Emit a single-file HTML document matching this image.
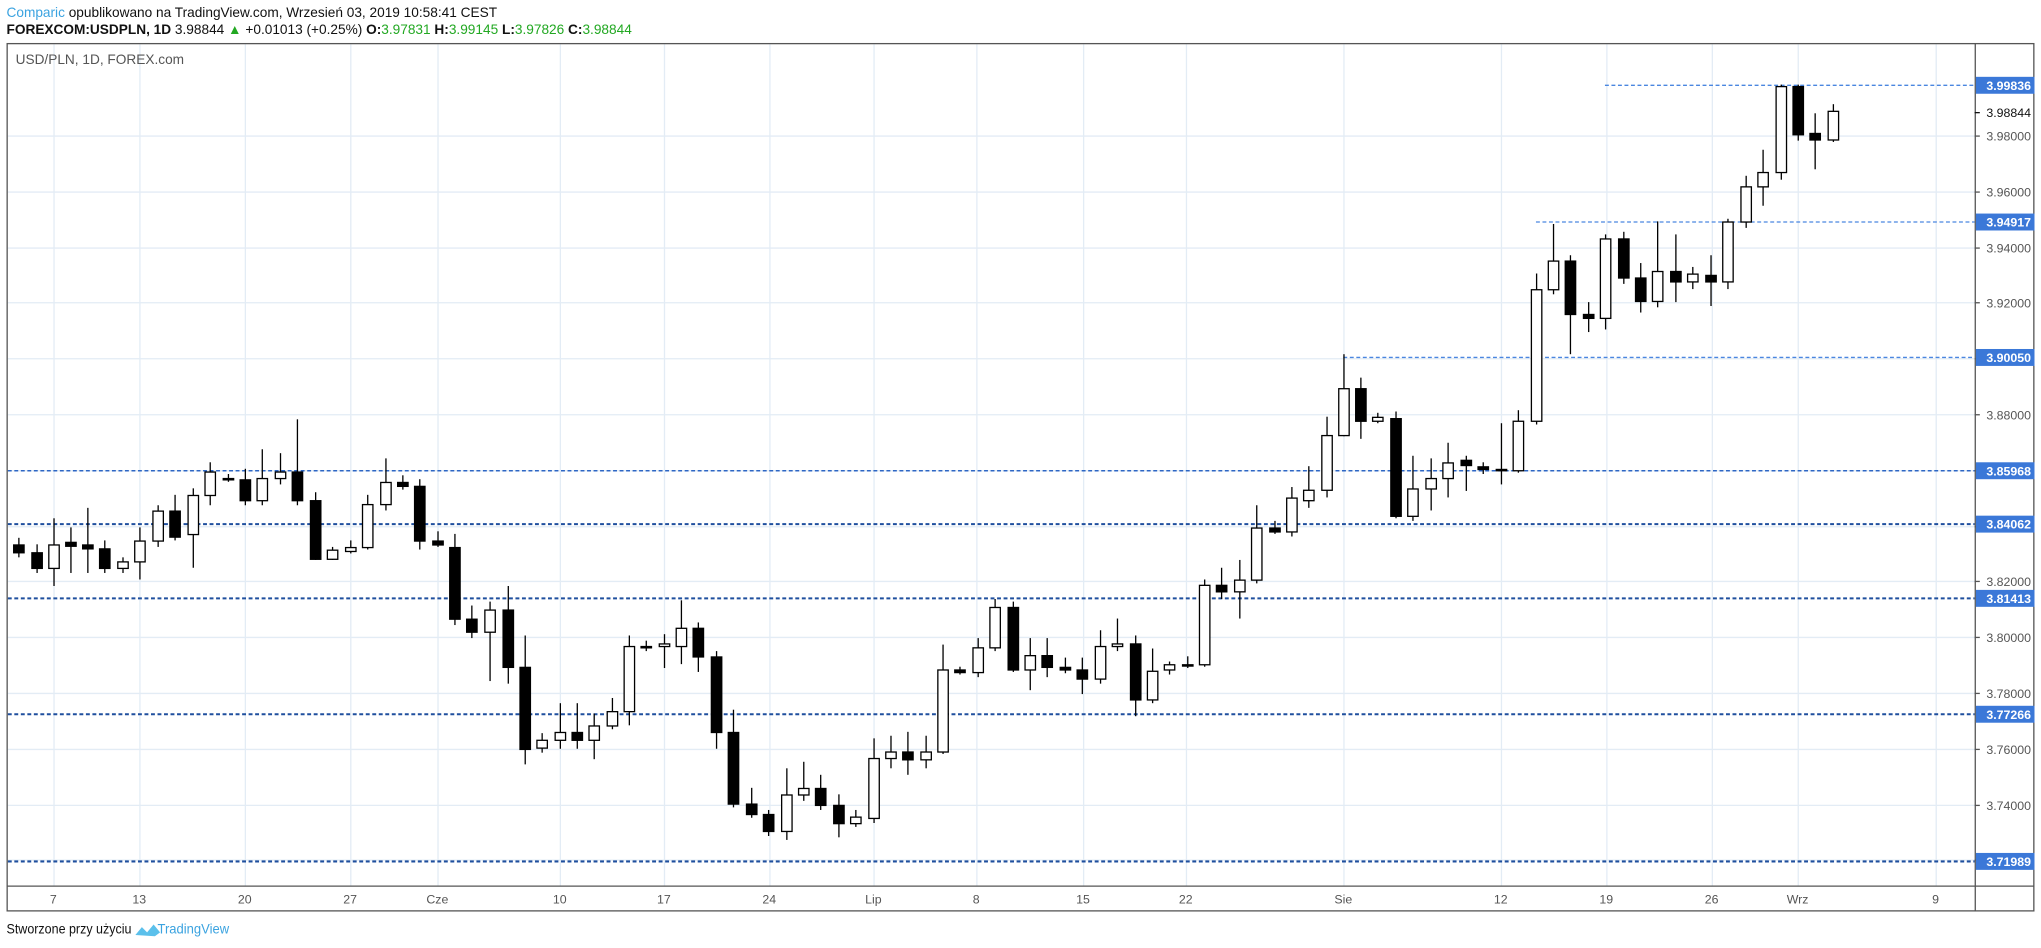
<!DOCTYPE html>
<html><head><meta charset="utf-8"><style>
html,body{margin:0;padding:0;background:#fff;}
svg{display:block;font-family:"Liberation Sans",sans-serif;}
</style></head><body>
<svg id="s" width="2041" height="948" viewBox="0 0 1568 728" preserveAspectRatio="none" xmlns="http://www.w3.org/2000/svg">
<rect width="1568" height="728" fill="#fff"/>
<text x="5" y="13" font-size="10.5" fill="#111"><tspan fill="#3ba3e0">Comparic</tspan> opublikowano na TradingView.com, Wrzesień 03, 2019 10:58:41 CEST</text>
<text x="5" y="26" font-size="10.5" fill="#111"><tspan font-weight="bold">FOREXCOM:USDPLN, 1D</tspan> 3.98844 <tspan fill="#22a822">▲</tspan> +0.01013 (+0.25%) <tspan font-weight="bold">O:</tspan><tspan fill="#22a822">3.97831</tspan> <tspan font-weight="bold">H:</tspan><tspan fill="#22a822">3.99145</tspan> <tspan font-weight="bold">L:</tspan><tspan fill="#22a822">3.97826</tspan> <tspan font-weight="bold">C:</tspan><tspan fill="#22a822">3.98844</tspan></text>
<g id="grid"></g>
<g id="lines"></g>
<g id="candles"></g>
<rect x="5.5" y="33.5" width="1557" height="666" fill="none" stroke="#555" stroke-width="1"/>
<line x1="5" y1="680.5" x2="1563" y2="680.5" stroke="#555"/>
<line x1="1517.5" y1="33" x2="1517.5" y2="700" stroke="#555"/>
<text x="12" y="49" font-size="10.5" fill="#555">USD/PLN, 1D, FOREX.com</text>
<g id="labels" font-size="9.5" fill="#555"></g>
<g font-size="9.5" fill="#555" text-anchor="middle">
<text x="41" y="694">7</text><text x="107" y="694">13</text><text x="188" y="694">20</text><text x="269" y="694">27</text><text x="336" y="694">Cze</text><text x="430" y="694">10</text><text x="510" y="694">17</text><text x="591" y="694">24</text><text x="671" y="694">Lip</text><text x="750" y="694">8</text><text x="832" y="694">15</text><text x="911" y="694">22</text><text x="1032" y="694">Sie</text><text x="1153" y="694">12</text><text x="1234" y="694">19</text><text x="1315" y="694">26</text><text x="1381" y="694">Wrz</text><text x="1487" y="694">9</text>
</g>
<g id="hl" font-size="9.5" font-weight="bold" fill="#fff"></g>
<text x="5" y="717" font-size="10.5" fill="#111" textLength="96" lengthAdjust="spacingAndGlyphs">Stworzone przy użyciu</text>
<path d="M104 718 l5 -6 l4 4 l5 -6 l5 6 l-4 3 z" fill="#5bc0eb"/>
<text x="121" y="717" font-size="10.5" fill="#3ba3e0" textLength="55" lengthAdjust="spacingAndGlyphs">TradingView</text>
</svg>
<script>
var NS="http://www.w3.org/2000/svg";
function el(p,t,a,txt){var e=document.createElementNS(NS,t);for(var k in a)e.setAttribute(k,a[k]);if(txt)e.textContent=txt;document.getElementById(p).appendChild(e);return e;}
function Y(p){return 104+(3.98-p)/0.02*42.8;}
[41,107,188,269,336,430,510,591,671,750,832,911,1032,1153,1234,1315,1381,1487].forEach(function(x){el("grid","line",{x1:x+.5,y1:34,x2:x+.5,y2:680,stroke:"#e3ecf5"});});
for(var p=3.72;p<=3.981;p+=0.02){var y=Math.round(Y(p))+.5;el("grid","line",{x1:6,y1:y,x2:1517,y2:y,stroke:"#e3ecf5"});el("grid","line",{x1:1517,y1:y,x2:1521,y2:y,stroke:"#555"});el("labels","text",{x:1526,y:y+3.5},p.toFixed(5));}
var y0=Math.round(Y(3.98844))+.5;el("labels","line",{x1:1517,y1:y0,x2:1521,y2:y0,stroke:"#111"});el("labels","text",{x:1526,y:y0+3.5,fill:"#111"},"3.98844");
[[3.99836,1233,"#4a86e0",1],[3.94917,1180,"#4a86e0",1],[3.90050,1032,"#4a86e0",1],[3.85968,6,"#2d66c4",1.2],[3.84062,6,"#1f4f9e",1.6],[3.81413,6,"#1f4f9e",1.6],[3.77266,6,"#1f4f9e",1.6],[3.71989,6,"#1f4f9e",1.6]].forEach(function(h){var y=Math.round(Y(h[0]))+.5;el("lines","line",{x1:h[1],y1:y,x2:1517,y2:y,stroke:h[2],"stroke-width":h[3],"stroke-dasharray":"3,2"});el("hl","rect",{x:1518,y:y-6.5,width:45,height:13,fill:"#3b78d8"});el("hl","text",{x:1526,y:y+3.5},h[0].toFixed(5));});
var C=[[14,'b',418,424,413,428],[28,'b',424,436,418,440],[41,'w',418,436,398,450],[54,'b',416,419,405,440],[67,'b',418,421,390,440],[80,'b',421,436,415,440],[94,'w',431,436,428,440],[107,'w',415,431,405,445],[121,'w',392,415,388,420],[134,'b',392,412,380,415],[148,'w',380,410,375,436],[161,'w',362,380,355,388],[175,'b',367,368,364,370],[188,'b',368,384,360,388],[201,'w',367,384,345,388],[215,'w',362,367,348,372],[228,'b',362,384,322,388],[242,'b',384,429,378,430],[255,'w',422,429,420,430],[269,'w',420,423,415,425],[282,'w',387,420,380,422],[296,'w',370,387,352,392],[309,'b',370,373,365,376],[322,'b',373,415,368,422],[336,'b',415,418,408,420],[349,'b',420,475,410,480],[362,'b',475,485,465,490],[376,'w',468,485,462,523],[390,'b',468,512,450,525],[403,'b',512,575,488,587],[416,'w',568,574,563,578],[430,'w',562,568,540,575],[443,'b',562,568,540,575],[456,'w',557,568,548,583],[470,'w',546,557,536,560],[483,'w',496,546,488,557],[496,'b',496,497,492,500],[510,'w',494,496,487,513],[523,'w',482,496,461,510],[536,'b',482,504,478,516],[550,'b',504,562,500,575],[563,'b',562,617,545,620],[577,'b',617,625,605,628],[590,'b',625,638,622,642],[604,'w',610,638,590,645],[617,'w',605,610,585,615],[630,'b',605,618,595,622],[644,'b',618,632,610,643],[657,'w',627,632,622,635],[671,'w',582,628,567,632],[684,'w',577,582,565,590],[697,'b',577,583,562,595],[711,'w',577,583,565,590],[724,'w',514,577,495,579],[737,'b',514,516,512,518],[751,'w',497,516,490,520],[764,'w',466,497,460,500],[778,'b',466,514,462,516],[791,'w',503,514,490,530],[804,'b',503,512,490,520],[818,'b',512,514,505,517],[831,'b',514,521,505,533],[845,'w',496,521,484,525],[858,'w',494,496,475,500],[872,'b',494,537,488,550],[885,'w',515,537,498,540],[898,'w',510,514,508,518],[912,'w',510,511,504,513],[925,'w',449,510,445,512],[938,'b',449,454,436,460],[952,'w',445,454,430,475],[965,'w',405,445,388,448],[979,'b',405,408,400,410],[992,'w',382,408,374,412],[1005,'w',376,384,358,390],[1019,'w',334,376,320,382],[1032,'w',298,334,272,335],[1045,'b',298,323,290,337],[1058,'w',320,323,317,325],[1072,'b',321,396,316,398],[1085,'w',375,396,350,400],[1099,'w',367,375,352,392],[1112,'w',355,367,340,382],[1126,'b',353,357,350,377],[1139,'b',358,360,355,364],[1153,'b',360,361,325,372],[1166,'w',323,361,315,363],[1180,'w',222,323,210,326],[1193,'w',200,222,172,226],[1206,'b',200,241,196,272],[1220,'b',241,244,232,255],[1233,'w',183,244,180,253],[1247,'b',183,213,178,218],[1260,'b',213,231,202,240],[1273,'w',208,231,170,236],[1287,'b',208,216,180,232],[1300,'w',210,216,205,222],[1314,'b',211,216,196,235],[1327,'w',170,216,168,222],[1341,'w',143,170,135,175],[1354,'w',132,143,115,158],[1368,'w',66,132,65,138],[1381,'b',66,103,65,108],[1394,'b',102,107,87,130],[1408,'w',85,107,80,109]];
C.forEach(function(c){var x=c[0];el("candles","line",{x1:x+.5,y1:c[4],x2:x+.5,y2:c[5],stroke:"#000"});var h=Math.max(c[3]-c[2],1);el("candles","rect",{x:x-3.5,y:c[2]+.5,width:8,height:h,fill:c[1]=='b'?"#000":"#fff",stroke:"#000","stroke-width":1});});
</script>
</body></html>
